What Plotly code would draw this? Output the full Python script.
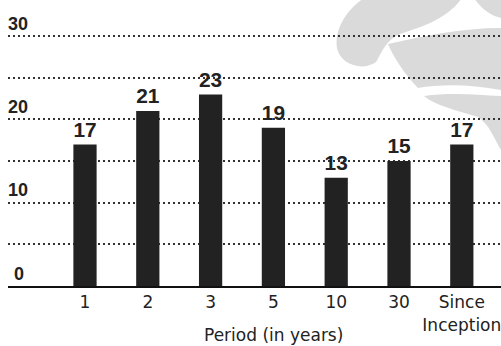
import plotly.graph_objects as go

# Annualised return by holding period
periods = ["1", "2", "3", "5", "10", "30", "Since<br>Inception"]
returns = [17, 21, 23, 19, 13, 15, 17]

y_ticks = [0, 5, 10, 15, 20, 25, 30]
y_tick_text = ["\u20040", "", "10", "", "20", "", "30"]

W, H = 501, 346
ML, MR, MT, MB = 8, 0, 0, 60
PW, PH = W - ML - MR, H - MT - MB


def px_to_paper(x, y):
    return (x - ML) / PW, (H - MB - y) / PH


def path_from(cmds):
    out = []
    for cmd, pts in cmds:
        coords = " ".join("%.4f,%.4f" % px_to_paper(x, y) for x, y in pts)
        out.append(cmd + " " + coords if pts else cmd)
    return " ".join(out)


# faint swirl emblem in the background, upper right
emblem_parts = [
    path_from([  # curl and upper lobe
        ("M", [(364, -2)]),
        ("C", [(346, 10), (334, 30), (337, 48)]),
        ("C", [(340, 64), (362, 72), (376, 62)]),
        ("C", [(382, 52), (386, 40), (400, 34)]),
        ("C", [(425, 26), (448, 18), (462, -2)]),
        ("Z", []),
    ]),
    path_from([  # top-right corner
        ("M", [(474, -2)]),
        ("C", [(482, 10), (492, 16), (501, 18)]),
        ("L", [(501, -2)]),
        ("Z", []),
    ]),
    path_from([  # middle band
        ("M", [(388, 44)]),
        ("C", [(425, 36), (460, 28), (501, 28)]),
        ("L", [(501, 90)]),
        ("C", [(470, 84), (440, 84), (418, 88)]),
        ("C", [(405, 74), (395, 60), (388, 44)]),
        ("Z", []),
    ]),
    path_from([  # lower tail
        ("M", [(424, 96)]),
        ("C", [(452, 92), (478, 95), (501, 96)]),
        ("L", [(501, 150)]),
        ("C", [(494, 138), (489, 124), (478, 117)]),
        ("C", [(456, 110), (436, 106), (424, 96)]),
        ("Z", []),
    ]),
]

label_font = "Arial, Liberation Sans, sans-serif"
axis_font = "DejaVu Sans, sans-serif"
ink = "#222222"

fig = go.Figure(
    go.Bar(
        x=periods,
        y=returns,
        text=[str(v) for v in returns],
        textposition="outside",
        textfont=dict(family=label_font, size=22, color=ink, weight="bold"),
        marker=dict(color=ink, line=dict(width=0)),
        width=0.37,
        cliponaxis=False,
    )
)

fig.update_layout(
    width=W,
    height=H,
    margin=dict(l=ML, r=MR, t=MT, b=MB),
    paper_bgcolor="white",
    plot_bgcolor="rgba(0,0,0,0)",
    showlegend=False,
    font=dict(family=axis_font, color=ink),
    shapes=[
        dict(type="path", path=p, xref="paper", yref="paper",
             fillcolor="#dadada", line=dict(width=0), layer="below")
        for p in emblem_parts
    ],
    annotations=[
        dict(text="Period (in years)", x=3, y=0, xref="x", yref="paper",
             yshift=-49, showarrow=False, yanchor="middle",
             font=dict(family=axis_font, size=17, color=ink)),
    ],
)

fig.update_xaxes(
    type="category",
    range=[-1.226, 6.624],
    showgrid=False,
    showline=True,
    linecolor="#111111",
    linewidth=2,
    ticks="",
    tickfont=dict(family=axis_font, size=17, color=ink),
)

fig.update_yaxes(
    range=[0, PH / 8.33],
    tickvals=y_ticks,
    ticktext=y_tick_text,
    ticklabelposition="inside top",
    ticklabelstandoff=-3,
    tickfont=dict(family=label_font, size=18, color=ink, weight="bold"),
    showgrid=True,
    gridcolor="#333333",
    gridwidth=2,
    griddash="2px,3px",
    zeroline=False,
    showline=False,
    ticks="",
)

fig.write_html("out.html")
